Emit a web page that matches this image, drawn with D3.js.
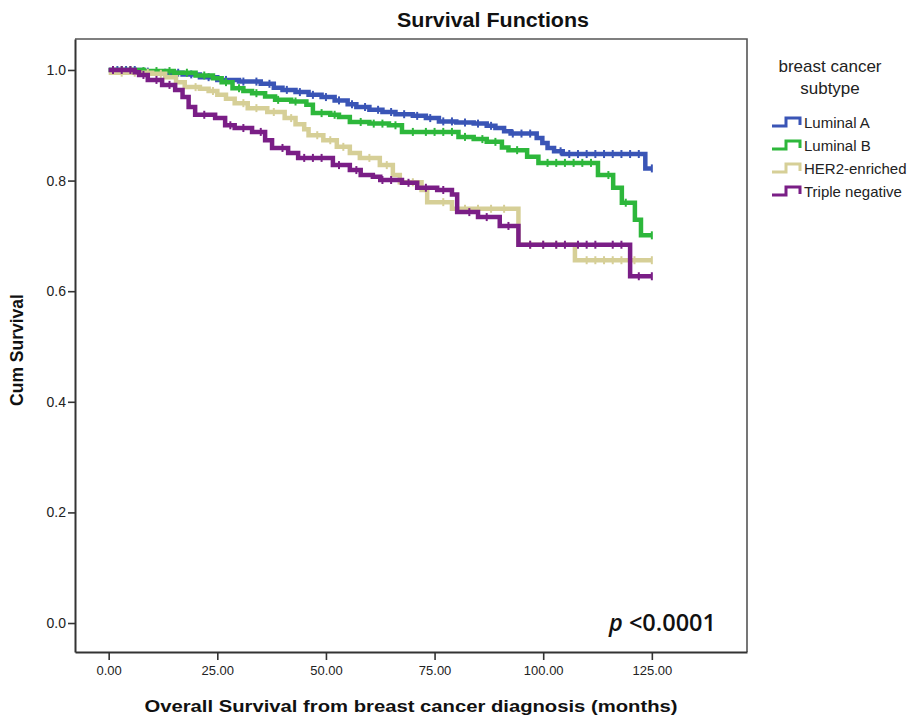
<!DOCTYPE html>
<html><head><meta charset="utf-8">
<script src="https://cdn.jsdelivr.net/npm/d3@7/dist/d3.min.js"></script>
<style>body{margin:0;background:#fff}svg{display:block}</style>
</head><body>
<script>
// ---- data ----
const seriesNames = ["Luminal A","Luminal B","HER2-enriched","Triple negative"];
const seriesColors = ["#3a55b6","#2db73b","#d6cf97","#7a1e86"];

const lumA_t = [0,8,12,17,21,25,30,35,38,40,43,46,49,52,55,57,60,63,66,70,73,76,80,84,87,89,91,92.5,98.5,99.8,101,102.5,104.5,123.5,125];
const lumA_s = [1.0,0.997,0.995,0.992,0.987,0.982,0.979,0.975,0.968,0.964,0.96,0.955,0.951,0.945,0.938,0.933,0.928,0.924,0.92,0.917,0.913,0.907,0.905,0.903,0.899,0.895,0.889,0.885,0.877,0.868,0.859,0.853,0.848,0.822,0.822];
const lumB_t = [0,8,15,20,24,26,28.5,31,33,36,38.3,42,45.5,47,51,53,55.5,60,64.5,67.5,80.5,84,87,90.5,92,96.3,98.9,112.6,116.1,118.1,121.1,122.5,125];
const lumB_s = [1.0,0.998,0.995,0.99,0.985,0.978,0.967,0.962,0.958,0.952,0.946,0.943,0.937,0.922,0.919,0.915,0.906,0.903,0.9,0.888,0.879,0.875,0.87,0.86,0.855,0.843,0.832,0.81,0.787,0.76,0.729,0.701,0.701];
const her2_t = [0,10,13,15.5,17.5,21,23,25,27,29,32,36.5,40.5,43,45,46,49.4,52.5,55.5,57.8,62.4,65.4,67,72,73.3,79,94.3,107.3,125];
const her2_s = [0.995,0.993,0.987,0.978,0.969,0.966,0.962,0.955,0.948,0.94,0.931,0.924,0.913,0.902,0.893,0.882,0.873,0.861,0.85,0.841,0.828,0.81,0.797,0.783,0.761,0.749,0.684,0.656,0.656];
const trip_t = [0,6,7,9,12.3,15.3,17,18.4,19.9,24.5,26.8,29,33,36,37.6,41.3,43.6,51.6,55.5,58,60.8,62.5,67.5,71,75.6,79,80.2,85,90,94.3,120,125];
const trip_s = [1.0,0.996,0.991,0.982,0.973,0.964,0.951,0.933,0.919,0.913,0.9,0.895,0.888,0.873,0.859,0.85,0.841,0.828,0.819,0.81,0.807,0.801,0.796,0.787,0.783,0.775,0.743,0.734,0.718,0.684,0.627,0.627];

const lumA_c = [2,4,6,9,13,16,19,23,27,31,34,37,41,44,47,50,53,56,59,62,65,68,71,74,77,79,82,85,88,93,95,97,104,106,108,110,112,114,116,118,120,122,125];
const lumB_c = [3,5,8,11,14,18,22,27,30,34,39,43,49,52,58,61,63,66,70,73,75,77,79,82,86,89,94,101,103,105,107,109,111,115,119,125];
const her2_c = [3,6,9,12,20,24,31,34,38,42,48,51,54,60,64,70,77,82,85,88,91,97,100,103,110,112,114,116,118,121,125];
const trip_c = [1,3,5,8,11,14,22,28,31,35,40,45,47,49,53,57,63,65,69,73,77,83,87,92,97,100,103,105,108,110,112,116,118,122,125];

const xTicks = [0,25,50,75,100,125];
const yTicks = [0,0.2,0.4,0.6,0.8,1.0];

const series = [
  {name:seriesNames[0], color:seriesColors[0], t:lumA_t, s:lumA_s, c:lumA_c},
  {name:seriesNames[1], color:seriesColors[1], t:lumB_t, s:lumB_s, c:lumB_c},
  {name:seriesNames[2], color:seriesColors[2], t:her2_t, s:her2_s, c:her2_c},
  {name:seriesNames[3], color:seriesColors[3], t:trip_t, s:trip_s, c:trip_c}
];

// ---- layout ----
const W = 917, H = 719;
const L = 75, R = 747, T = 39, B = 652;
const x = d3.scaleLinear().domain([-7.75, 146.9]).range([L, R]);
const y = d3.scaleLinear().domain([-0.0524, 1.056]).range([B, T]);
const FONT = "'Liberation Sans', Arial, sans-serif";

const svg = d3.select("body").append("svg").attr("width", W).attr("height", H);

// frame top/right
svg.append("path").attr("d", `M${L},${T}H${R}V${B}`).attr("fill","none")
  .attr("stroke","#555").attr("stroke-width",1.6);

// axes
const gx = svg.append("g").attr("transform", `translate(0,${B})`)
  .call(d3.axisBottom(x).tickValues(xTicks).tickFormat(d3.format(".2f")).tickSize(8).tickSizeOuter(0).tickPadding(6));
const gy = svg.append("g").attr("transform", `translate(${L},0)`)
  .call(d3.axisLeft(y).tickValues(yTicks).tickFormat(d3.format(".1f")).tickSize(7).tickSizeOuter(0).tickPadding(2));
[gx, gy].forEach(g => {
  g.select(".domain").attr("stroke","#333").attr("stroke-width",2);
  g.selectAll(".tick line").attr("stroke","#333").attr("stroke-width",1.6);
  g.selectAll("text").attr("fill","#222").style("font-family", FONT);
});
gx.selectAll("text").style("font-size","13px");
gy.selectAll("text").style("font-size","14px");

// curves
const line = d3.line().curve(d3.curveStepAfter).x(d => x(d[0])).y(d => y(d[1]));
function survAt(sr, tm) {
  let v = sr.s[0];
  for (let i = 0; i < sr.t.length; i++) { if (sr.t[i] <= tm) v = sr.s[i]; }
  return v;
}
series.forEach(sr => {
  const pts = sr.t.map((tt, i) => [tt, sr.s[i]]);
  const g = svg.append("g");
  g.append("path").attr("d", line(pts)).attr("fill","none")
    .attr("stroke", sr.color).attr("stroke-width", 4.5).attr("stroke-linejoin","miter");
  g.selectAll("line.c").data(sr.c).join("line").attr("class","c")
    .attr("x1", d => x(d)).attr("x2", d => x(d))
    .attr("y1", d => y(survAt(sr, d)) - 4).attr("y2", d => y(survAt(sr, d)) + 4)
    .attr("stroke", sr.color).attr("stroke-width", 2);
});

// titles
svg.append("text").attr("x", 493).attr("y", 27).attr("text-anchor","middle")
  .style("font-family", FONT).style("font-weight","bold").style("font-size","19.5px").attr("fill","#111")
  .attr("textLength", 192).attr("lengthAdjust","spacingAndGlyphs")
  .text("Survival Functions");
svg.append("text").attr("x", 411).attr("y", 712).attr("text-anchor","middle")
  .style("font-family", FONT).style("font-weight","bold").style("font-size","17px").attr("fill","#111")
  .attr("textLength", 533).attr("lengthAdjust","spacingAndGlyphs")
  .text("Overall Survival from breast cancer diagnosis (months)");
svg.append("text").attr("transform", "translate(23,350) rotate(-90)").attr("text-anchor","middle")
  .style("font-family", FONT).style("font-weight","bold").style("font-size","17.5px").attr("fill","#111")
  .text("Cum Survival");

// legend
const lg = svg.append("g");
lg.append("text").attr("x", 830).attr("y", 72).attr("text-anchor","middle")
  .style("font-family", FONT).style("font-size","17px").attr("fill","#222").text("breast cancer");
lg.append("text").attr("x", 830).attr("y", 94).attr("text-anchor","middle")
  .style("font-family", FONT).style("font-size","17px").attr("fill","#222").text("subtype");
series.forEach((sr, i) => {
  const by = 128 + i * 23;
  lg.append("path").attr("d", `M772,${by-2}H786V${by-10}H800V${by-3}`)
    .attr("fill","none").attr("stroke", sr.color).attr("stroke-width", 3);
  lg.append("text").attr("x", 804).attr("y", by)
    .style("font-family", FONT).style("font-size","15px").attr("fill","#222").text(sr.name);
});

// p value
const pt = svg.append("text").attr("x", 609).attr("y", 631)
  .style("font-family", "'Open Sans', sans-serif").style("font-size","23.5px").style("font-weight","600").attr("fill","#111");
pt.append("tspan").style("font-style","italic").text("p");
pt.append("tspan").text(" <0.0001");
</script>
</body></html>
